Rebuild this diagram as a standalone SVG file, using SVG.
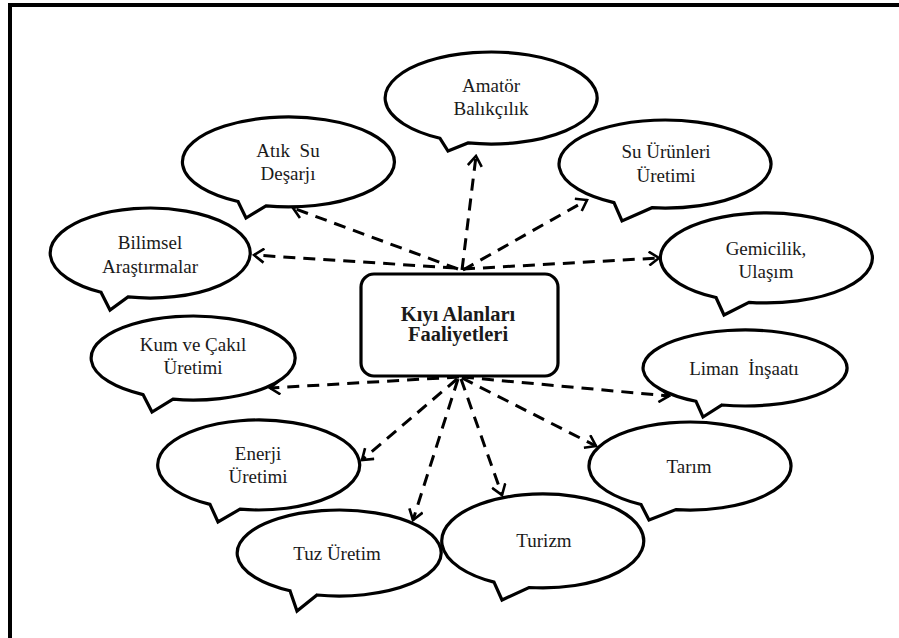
<svg xmlns="http://www.w3.org/2000/svg" width="899" height="638" viewBox="0 0 899 638">
  <style>
    .bubble { fill: #ffffff; stroke: #000000; stroke-width: 3.2; stroke-linejoin: miter; }
    .hub { fill: #ffffff; stroke: #000000; stroke-width: 3.2; }
    .lbl { font-family: 'Liberation Serif', 'DejaVu Serif', serif; font-size: 19px; fill: #1a1a1a; text-anchor: middle; }
    .title { font-family: 'Liberation Serif', 'DejaVu Serif', serif; font-size: 20.5px; font-weight: bold; fill: #1a1a1a; text-anchor: middle; }
    .link { fill: none; stroke: #000000; stroke-width: 3; stroke-dasharray: 12 8; marker-end: url(#vhead); }
  </style>
  <defs>
    <marker id="vhead" markerUnits="userSpaceOnUse" markerWidth="14" markerHeight="16" refX="12" refY="8" orient="auto">
      <path d="M2,1 L12,8 L2,15" fill="none" stroke="#000000" stroke-width="2.6"/>
    </marker>
  </defs>

  <rect width="899" height="638" fill="#ffffff"/>

  <!-- page frame -->
  <path d="M10,638 L10,5 L899,5" fill="none" stroke="#000000" stroke-width="4"/>

  <!-- dashed connectors from the central activity box -->
  <g id="connectors">
    <line class="link" x1="462" y1="270" x2="476" y2="156"/>
    <line class="link" x1="458" y1="269" x2="293" y2="208"/>
    <line class="link" x1="455" y1="268" x2="254" y2="255"/>
    <line class="link" x1="463" y1="270" x2="587" y2="200"/>
    <line class="link" x1="463" y1="269" x2="659" y2="258"/>
    <line class="link" x1="459" y1="377" x2="270" y2="388"/>
    <line class="link" x1="457" y1="379" x2="362" y2="460"/>
    <line class="link" x1="458" y1="379" x2="413" y2="520"/>
    <line class="link" x1="461" y1="379" x2="502" y2="495"/>
    <line class="link" x1="462" y1="378" x2="596" y2="446"/>
    <line class="link" x1="462" y1="377" x2="669" y2="396"/>
  </g>

  <!-- central box -->
  <g id="center">
    <rect class="hub" x="361" y="274" width="197" height="102" rx="13" ry="13"/>
    <text class="title" x="458" y="321">Kıyı Alanları</text>
    <text class="title" x="458" y="341">Faaliyetleri</text>
  </g>

  <!-- speech-bubble nodes -->
  <g id="amator">
    <path class="bubble" d="M440,138.3 L448,151 L468,142.9 A106,46 0 1 0 440,138.3 Z"/>
    <text class="lbl" x="491" y="92">Amatör</text>
    <text class="lbl" x="491" y="115">Balıkçılık</text>
  </g>

  <g id="atik-su">
    <path class="bubble" d="M238,201.5 L246,218 L266,205.9 A106,45 0 1 0 238,201.5 Z"/>
    <text class="lbl" x="288" y="157" xml:space="preserve">Atık  Su</text>
    <text class="lbl" x="288" y="180">Deşarjı</text>
  </g>

  <g id="bilimsel">
    <path class="bubble" d="M101,292.2 L110,310 L128,296.9 A100,45 0 1 0 101,292.2 Z"/>
    <text class="lbl" x="150" y="249">Bilimsel</text>
    <text class="lbl" x="150" y="273">Araştırmalar</text>
  </g>

  <g id="su-urunleri">
    <path class="bubble" d="M614,202.6 L622,221 L652,207.7 A106,44 0 1 0 614,202.6 Z"/>
    <text class="lbl" x="666" y="158">Su Ürünleri</text>
    <text class="lbl" x="666" y="182">Üretimi</text>
  </g>

  <g id="gemicilik">
    <path class="bubble" d="M716,297.5 L724,315 L749,302.3 A106,45 0 1 0 716,297.5 Z"/>
    <text class="lbl" x="766" y="255">Gemicilik,</text>
    <text class="lbl" x="766" y="278">Ulaşım</text>
  </g>

  <g id="kum-cakil">
    <path class="bubble" d="M143,394.6 L152,412 L173,399.2 A102,42 0 1 0 143,394.6 Z"/>
    <text class="lbl" x="193" y="351">Kum ve Çakıl</text>
    <text class="lbl" x="193" y="374">Üretimi</text>
  </g>

  <g id="liman">
    <path class="bubble" d="M696,401.3 L703,417 L722,405 A102,38 0 1 0 696,401.3 Z"/>
    <text class="lbl" x="744" y="375" xml:space="preserve">Liman  İnşaatı</text>
  </g>

  <g id="enerji">
    <path class="bubble" d="M210,504.4 L218,522 L240,509.2 A101,45 0 1 0 210,504.4 Z"/>
    <text class="lbl" x="258" y="460">Enerji</text>
    <text class="lbl" x="258" y="483">Üretimi</text>
  </g>

  <g id="tarim">
    <path class="bubble" d="M641,504.5 L649,520 L676,509.6 A101,44 0 1 0 641,504.5 Z"/>
    <text class="lbl" x="689" y="473">Tarım</text>
  </g>

  <g id="turizm">
    <path class="bubble" d="M494,582.1 L502,600 L529,587.5 A101,47 0 1 0 494,582.1 Z"/>
    <text class="lbl" x="544" y="547">Turizm</text>
  </g>

  <g id="tuz">
    <path class="bubble" d="M290,590.7 L297,611 L317,595 A102,43 0 1 0 290,590.7 Z"/>
    <text class="lbl" x="337" y="560">Tuz Üretim</text>
  </g>
</svg>
